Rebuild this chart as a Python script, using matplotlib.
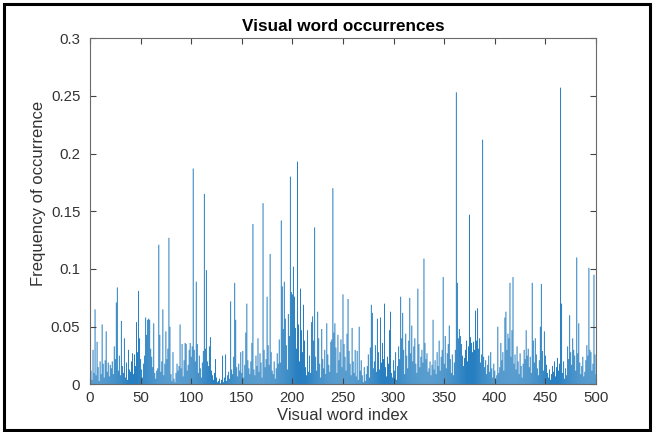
import matplotlib
matplotlib.use('Agg')
import matplotlib.pyplot as plt
import numpy as np

plt.rcParams['font.family'] = ['Liberation Sans', 'DejaVu Sans']

# Frequency of each visual word (index 1..500)
freq = [
    0.012, 0.004, 0.030, 0.010, 0.065, 0.008, 0.037, 0.015, 0.003, 0.020, 0.009, 0.052, 0.018, 0.006, 0.021, 0.046, 0.011, 0.019, 0.007, 0.017,
    0.014, 0.020, 0.009, 0.033, 0.022, 0.071, 0.084, 0.012, 0.025, 0.008, 0.055, 0.016, 0.010, 0.040, 0.006, 0.019, 0.004, 0.030, 0.013, 0.011,
    0.020, 0.027, 0.009, 0.026, 0.016, 0.054, 0.028, 0.081, 0.040, 0.022, 0.013, 0.006, 0.018, 0.025, 0.058, 0.043, 0.056, 0.057, 0.056, 0.031,
    0.024, 0.015, 0.053, 0.010, 0.005, 0.012, 0.014, 0.121, 0.043, 0.011, 0.020, 0.065, 0.008, 0.018, 0.046, 0.022, 0.031, 0.127, 0.050, 0.009,
    0.003, 0.028, 0.005, 0.002, 0.010, 0.018, 0.012, 0.016, 0.052, 0.014, 0.035, 0.007, 0.021, 0.036, 0.035, 0.012, 0.017, 0.030, 0.036, 0.024,
    0.033, 0.187, 0.030, 0.020, 0.089, 0.035, 0.010, 0.025, 0.014, 0.006, 0.019, 0.029, 0.165, 0.031, 0.099, 0.020, 0.016, 0.033, 0.041, 0.012,
    0.008, 0.004, 0.010, 0.022, 0.006, 0.002, 0.003, 0.005, 0.001, 0.004, 0.025, 0.002, 0.006, 0.026, 0.003, 0.008, 0.011, 0.005, 0.072, 0.013,
    0.009, 0.024, 0.088, 0.056, 0.015, 0.007, 0.018, 0.012, 0.028, 0.010, 0.029, 0.006, 0.017, 0.045, 0.070, 0.021, 0.014, 0.009, 0.020, 0.036,
    0.139, 0.013, 0.008, 0.025, 0.016, 0.040, 0.011, 0.027, 0.019, 0.006, 0.157, 0.030, 0.015, 0.022, 0.076, 0.034, 0.017, 0.113, 0.028, 0.012,
    0.009, 0.020, 0.005, 0.014, 0.027, 0.018, 0.039, 0.019, 0.142, 0.085, 0.048, 0.089, 0.057, 0.034, 0.013, 0.061, 0.042, 0.180, 0.080, 0.078,
    0.102, 0.076, 0.049, 0.031, 0.193, 0.052, 0.020, 0.083, 0.047, 0.028, 0.069, 0.038, 0.015, 0.008, 0.047, 0.011, 0.025, 0.010, 0.054, 0.059,
    0.038, 0.136, 0.024, 0.012, 0.063, 0.040, 0.018, 0.006, 0.048, 0.022, 0.014, 0.030, 0.009, 0.053, 0.026, 0.017, 0.011, 0.037, 0.039, 0.170,
    0.045, 0.053, 0.032, 0.010, 0.043, 0.021, 0.028, 0.039, 0.015, 0.078, 0.035, 0.024, 0.012, 0.044, 0.074, 0.029, 0.018, 0.008, 0.049, 0.020,
    0.010, 0.030, 0.007, 0.029, 0.004, 0.050, 0.012, 0.021, 0.008, 0.002, 0.015, 0.003, 0.009, 0.016, 0.026, 0.006, 0.032, 0.069, 0.062, 0.014,
    0.020, 0.034, 0.011, 0.057, 0.028, 0.013, 0.058, 0.019, 0.036, 0.022, 0.070, 0.015, 0.007, 0.024, 0.018, 0.047, 0.063, 0.010, 0.006, 0.021,
    0.012, 0.028, 0.004, 0.016, 0.033, 0.022, 0.076, 0.040, 0.062, 0.030, 0.009, 0.044, 0.025, 0.014, 0.038, 0.075, 0.027, 0.051, 0.020, 0.033,
    0.040, 0.018, 0.010, 0.083, 0.035, 0.015, 0.024, 0.030, 0.019, 0.109, 0.036, 0.022, 0.027, 0.011, 0.014, 0.020, 0.008, 0.017, 0.056, 0.013,
    0.021, 0.009, 0.028, 0.016, 0.038, 0.012, 0.024, 0.030, 0.093, 0.018, 0.042, 0.014, 0.027, 0.035, 0.051, 0.022, 0.010, 0.026, 0.008, 0.019,
    0.030, 0.253, 0.088, 0.040, 0.048, 0.042, 0.035, 0.025, 0.016, 0.023, 0.030, 0.038, 0.020, 0.033, 0.147, 0.041, 0.036, 0.028, 0.037, 0.030,
    0.064, 0.038, 0.066, 0.031, 0.040, 0.019, 0.026, 0.212, 0.024, 0.015, 0.021, 0.009, 0.017, 0.025, 0.011, 0.028, 0.014, 0.006, 0.018, 0.012,
    0.004, 0.008, 0.050, 0.010, 0.015, 0.036, 0.021, 0.028, 0.012, 0.058, 0.063, 0.030, 0.044, 0.040, 0.088, 0.024, 0.047, 0.093, 0.018, 0.026,
    0.013, 0.033, 0.020, 0.009, 0.027, 0.016, 0.006, 0.018, 0.030, 0.022, 0.047, 0.025, 0.031, 0.015, 0.024, 0.010, 0.088, 0.038, 0.019, 0.040,
    0.026, 0.014, 0.008, 0.021, 0.050, 0.087, 0.029, 0.012, 0.046, 0.025, 0.017, 0.010, 0.006, 0.013, 0.004, 0.009, 0.016, 0.011, 0.020, 0.007,
    0.015, 0.023, 0.012, 0.018, 0.257, 0.070, 0.010, 0.020, 0.005, 0.014, 0.008, 0.033, 0.022, 0.060, 0.028, 0.017, 0.040, 0.030, 0.025, 0.012,
    0.110, 0.027, 0.053, 0.019, 0.009, 0.016, 0.024, 0.007, 0.011, 0.021, 0.034, 0.025, 0.101, 0.030, 0.028, 0.012, 0.018, 0.095, 0.026, 0.009,
]
word_index = np.arange(1, len(freq) + 1)
xticks = [0, 50, 100, 150, 200, 250, 300, 350, 400, 450, 500]
yticks = [0, 0.05, 0.1, 0.15, 0.2, 0.25, 0.3]
ytick_labels = ['0', '0.05', '0.1', '0.15', '0.2', '0.25', '0.3']

fig = plt.figure(figsize=(6.54, 4.32), dpi=100)
ax = fig.add_axes([0.1376, 0.110, 0.7737, 0.802])

# thin bars: turn snapping off so none of them vanish at ~1 px width
ax.bar(word_index, freq, width=0.9, color='#1273bb', linewidth=0, snap=False)

ax.set_xlim(0, 500)
ax.set_ylim(0, 0.3)
ax.set_xticks(xticks)
ax.set_yticks(yticks)
ax.set_yticklabels(ytick_labels)
ax.tick_params(direction='in', length=4, top=True, right=True,
               labelsize=10.8, colors='#444444', labelcolor='#333333')
ax.tick_params(axis='x', pad=5)
ax.tick_params(axis='y', pad=7)
for s in ax.spines.values():
    s.set_color('#6a6a6a')
    s.set_linewidth(0.8)

ax.set_title('Visual word occurrences', fontsize=12.3, fontweight='bold', pad=5)
ax.set_xlabel('Visual word index', fontsize=12, color='#333333', labelpad=2)
ax.set_ylabel('Frequency of occurrence', fontsize=12, color='#333333')
ax.yaxis.set_label_coords(-0.086, 0.55)

# black frame around the whole picture
fig.patches.append(plt.Rectangle((0.006, 0.005), 0.988, 0.985, transform=fig.transFigure,
                                 fill=False, edgecolor='black', linewidth=2.2))

fig.savefig('out.png', dpi=100)
